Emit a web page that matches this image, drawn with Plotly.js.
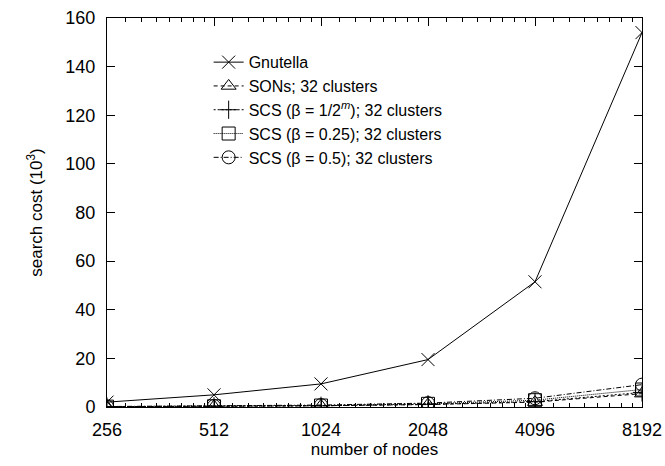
<!DOCTYPE html>
<html>
<head>
<meta charset="utf-8">
<script src="https://cdn.plot.ly/plotly-3.0.1.min.js"></script>
<style>html,body{margin:0;padding:0;background:#fff;}#chart{width:665px;height:466px;}</style>
</head>
<body>
<div id="chart"></div>
<script>
var nodes = [256, 512, 1024, 2048, 4096, 8192];
var tickLabels = ["256", "512", "1024", "2048", "4096", "8192"];
var gnutella = [2.0, 5.0, 9.5, 19.5, 51.5, 154.0];
var sons = [0.12, 0.25, 0.5, 1.0, 2.0, 5.5];
var scsM = [0.15, 0.3, 0.5, 1.1, 2.2, 6.0];
var scs025 = [0.15, 0.3, 0.6, 1.3, 2.8, 7.2];
var scs05 = [0.2, 0.4, 0.8, 1.6, 3.6, 9.2];
var names = [
  "Gnutella",
  "SONs; 32 clusters",
  "SCS (β = 1/2<sup><i>m</i></sup>); 32 clusters",
  "SCS (β = 0.25); 32 clusters",
  "SCS (β = 0.5); 32 clusters"
];
var yTicks = [0, 20, 40, 60, 80, 100, 120, 140, 160];

var minor = [];
for (var i = 0; i < nodes.length - 1; i++) {
  for (var j = 1; j < 8; j++) minor.push(nodes[i] * (1 + j / 8));
}

var col = "#000";
function tr(y, name, dash, sym) {
  return {
    x: nodes, y: y, name: name, type: "scatter", mode: "lines+markers",
    line: {color: col, width: 1, dash: dash},
    marker: {symbol: sym, size: 13, color: col, line: {color: col, width: 1}}
  };
}
var data = [
  tr(gnutella, names[0], "solid", "x-thin-open"),
  tr(sons, names[1], "4px,3px", "triangle-up-open"),
  tr(scsM, names[2], "2px,2px", "cross-thin-open"),
  tr(scs025, names[3], "1px,1px", "square-open"),
  tr(scs05, names[4], "5px,2px,1px,2px", "circle-open")
];

var layout = {
  width: 665, height: 466,
  margin: {l: 107, r: 23, t: 18, b: 59},
  paper_bgcolor: "#fff", plot_bgcolor: "#fff",
  font: {family: "Liberation Sans, Arial, sans-serif", size: 18, color: "#000"},
  showlegend: true,
  legend: {
    x: 0.19, y: 0.93, xanchor: "left", yanchor: "top",
    bgcolor: "rgba(0,0,0,0)", borderwidth: 0,
    font: {size: 16}, tracegroupgap: 0
  },
  xaxis: {
    type: "log", range: [Math.log10(256), Math.log10(8192)],
    tickmode: "array", tickvals: nodes, ticktext: tickLabels,
    ticks: "inside", ticklen: 8, tickcolor: col, tickwidth: 1,
    showline: true, linecolor: col, linewidth: 1, mirror: "ticks",
    showgrid: false, zeroline: false,
    ticklabelstandoff: 6,
    minor: {tickmode: "array", tickvals: minor, ticks: "inside", ticklen: 4, tickcolor: col, showgrid: false},
    tickfont: {size: 18},
    title: {text: "number of nodes", font: {size: 17}, standoff: 4}
  },
  yaxis: {
    range: [0, 160],
    tickmode: "array", tickvals: yTicks,
    ticks: "inside", ticklen: 8, tickcolor: col, tickwidth: 1,
    showline: true, linecolor: col, linewidth: 1, mirror: "ticks",
    showgrid: false, zeroline: false,
    ticklabelstandoff: 7,
    tickfont: {size: 18},
    title: {text: "search cost (10<sup>3</sup>)", font: {size: 17}, standoff: 18}
  }
};
Plotly.newPlot("chart", data, layout, {displayModeBar: false, staticPlot: true});
</script>
</body>
</html>
